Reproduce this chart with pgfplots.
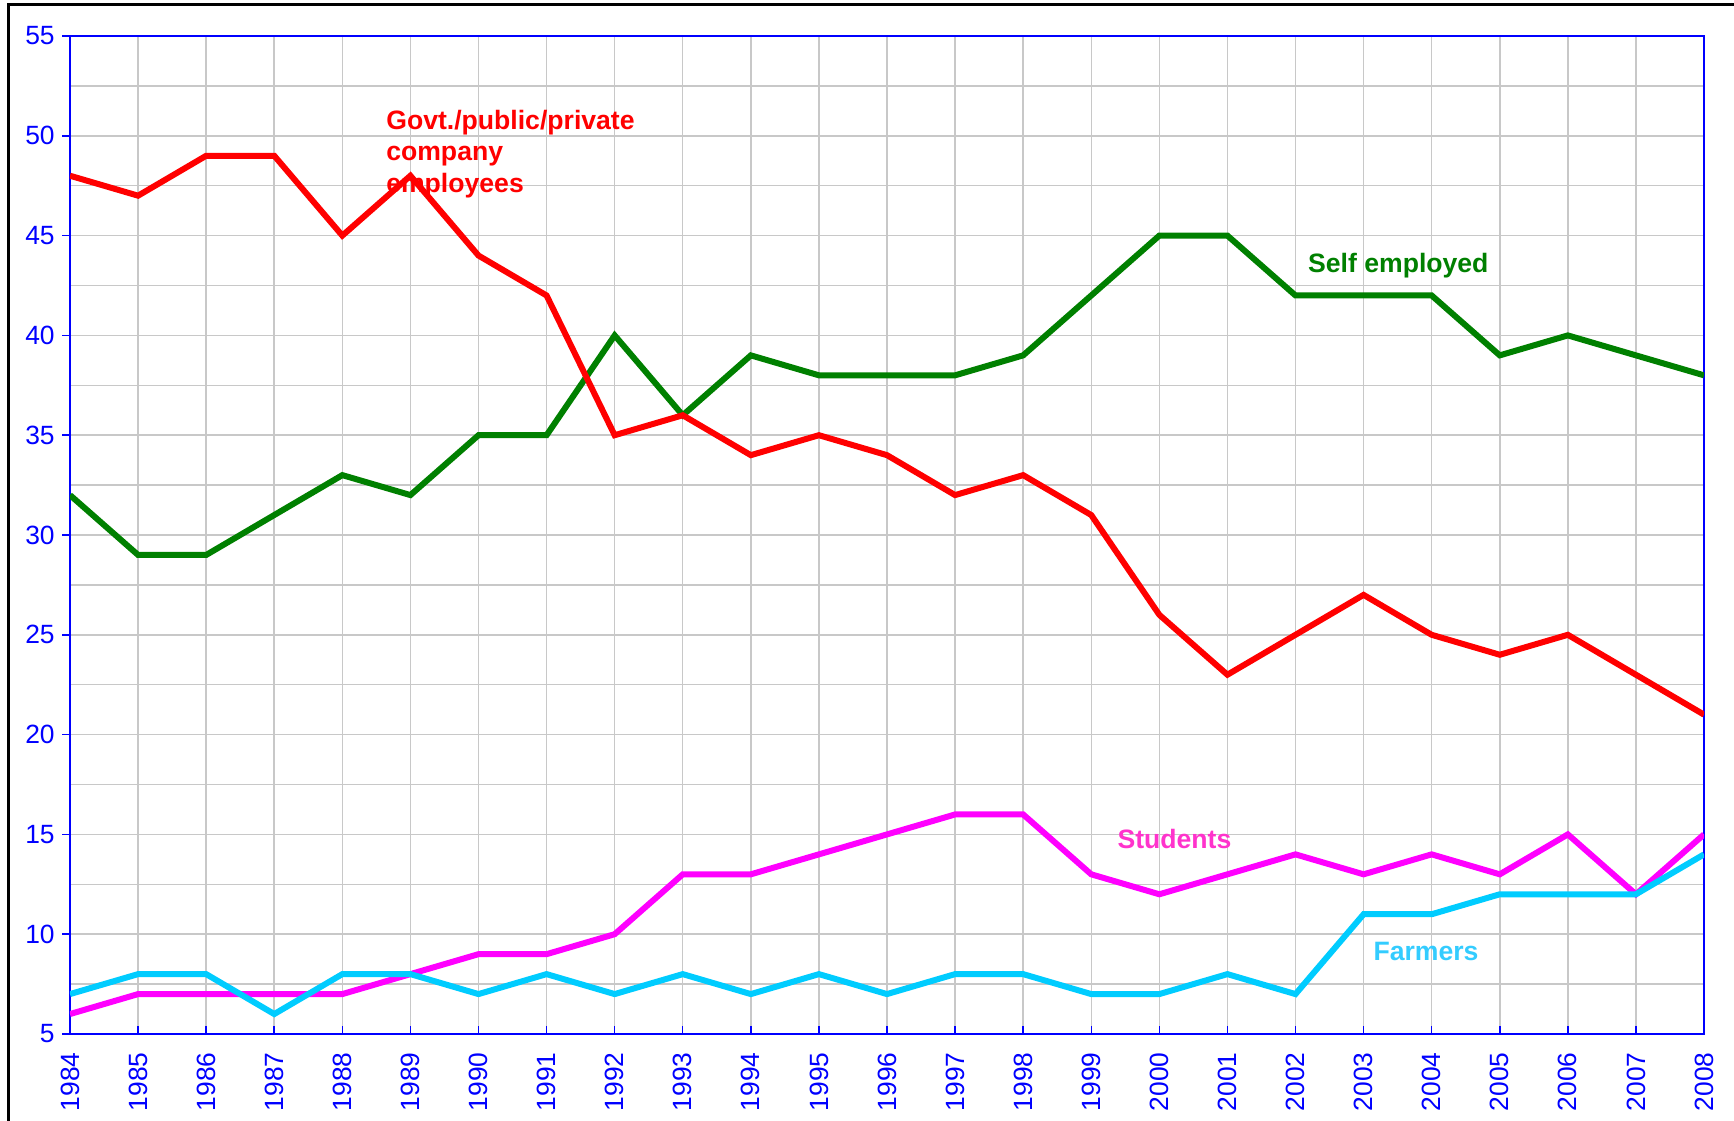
\documentclass[border=0pt]{standalone}
\usepackage{fontspec}
\setmainfont{Liberation Sans}
\usepackage{pgfplots}
\pgfplotsset{compat=1.18}
\definecolor{govt}{RGB}{255,0,0}
\definecolor{selfemp}{RGB}{0,128,0}
\definecolor{stud}{RGB}{255,0,255}
\definecolor{farm}{RGB}{0,204,255}
\definecolor{studlab}{RGB}{255,51,204}
\definecolor{farmlab}{RGB}{51,204,255}
\definecolor{gridgray}{RGB}{200,200,200}
\definecolor{axblue}{RGB}{0,0,255}
\begin{document}
\begin{tikzpicture}
\path[use as bounding box] (0,0) rectangle (867pt,560pt);
\draw[black, line width=1.5pt] (4.25pt,-5pt) -- (4.25pt,557.5pt) -- (875pt,557.5pt);
\begin{axis}[
  at={(35pt,43pt)}, anchor=south west, scale only axis,
  width=817pt, height=499pt,
  xmin=1984, xmax=2008, ymin=5, ymax=55,
  xtick={1984,1985,...,2008}, ytick={5,10,...,55},
  minor ytick={7.5,12.5,...,52.5},
  grid=both,
  major grid style={gridgray, line width=0.75pt},
  minor grid style={gridgray, line width=0.75pt},
  axis line style={axblue, line width=1pt},
  xtick pos=left, ytick pos=left,
  xtick align=inside, ytick align=outside,
  major tick length=4pt, minor tick length=0pt,
  tick style={axblue, line width=0.75pt},
  ticklabel style={font=\fontsize{13.2}{15}\selectfont, text=axblue},
  yticklabel style={inner xsep=3.5pt},
  xticklabel style={rotate=90, anchor=east, inner xsep=9pt, inner ysep=0pt},
  /pgf/number format/1000 sep={},
  /pgf/number format/assume math mode=true,
  every axis plot/.append style={line width=3pt, mark=none},
]
\addplot[selfemp] coordinates {
(1984,32) (1985,29) (1986,29) (1987,31) (1988,33) (1989,32) (1990,35) (1991,35)
(1992,40) (1993,36) (1994,39) (1995,38) (1996,38) (1997,38) (1998,39) (1999,42)
(2000,45) (2001,45) (2002,42) (2003,42) (2004,42) (2005,39) (2006,40) (2007,39) (2008,38)};
\addplot[govt] coordinates {
(1984,48) (1985,47) (1986,49) (1987,49) (1988,45) (1989,48) (1990,44) (1991,42)
(1992,35) (1993,36) (1994,34) (1995,35) (1996,34) (1997,32) (1998,33) (1999,31)
(2000,26) (2001,23) (2002,25) (2003,27) (2004,25) (2005,24) (2006,25) (2007,23) (2008,21)};
\addplot[stud] coordinates {
(1984,6) (1985,7) (1986,7) (1987,7) (1988,7) (1989,8) (1990,9) (1991,9)
(1992,10) (1993,13) (1994,13) (1995,14) (1996,15) (1997,16) (1998,16) (1999,13)
(2000,12) (2001,13) (2002,14) (2003,13) (2004,14) (2005,13) (2006,15) (2007,12) (2008,15)};
\addplot[farm] coordinates {
(1984,7) (1985,8) (1986,8) (1987,6) (1988,8) (1989,8) (1990,7) (1991,8)
(1992,7) (1993,8) (1994,7) (1995,8) (1996,7) (1997,8) (1998,8) (1999,7)
(2000,7) (2001,8) (2002,7) (2003,11) (2004,11) (2005,12) (2006,12) (2007,12) (2008,14)};
\tikzset{lab/.style={anchor=base west, inner sep=0pt, font=\bfseries\fontsize{13.3}{16}\selectfont}}
\node[lab, text=govt] at (axis cs:1988.64,50.34) {Govt./public/private};
\node[lab, text=govt] at (axis cs:1988.64,48.74) {company};
\node[lab, text=govt] at (axis cs:1988.64,47.14) {employees};
\node[lab, text=selfemp] at (axis cs:2002.18,43.13) {Self employed};
\node[lab, text=studlab] at (axis cs:1999.38,14.27) {Students};
\node[lab, text=farmlab] at (axis cs:2003.14,8.66) {Farmers};
\end{axis}
\end{tikzpicture}
\end{document}
